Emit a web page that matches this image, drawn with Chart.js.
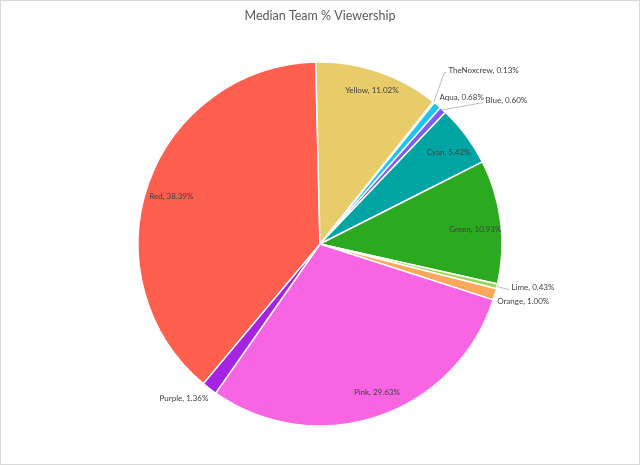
<!DOCTYPE html>
<html>
<head>
<meta charset="utf-8">
<script src="https://cdn.jsdelivr.net/npm/chart.js@4/dist/chart.umd.min.js"></script>
<style>
html,body{margin:0;padding:0;background:#fff;}
#wrap{width:640px;height:465px;position:relative;}
</style>
</head>
<body>
<div id="wrap"><canvas id="c" width="640" height="465"></canvas></div>
<script>
const titleText = "Median Team % Viewership";
const teams = ["TheNoxcrew","Aqua","Blue","Cyan","Green","Lime","Orange","Pink","Purple","Red","Yellow"];
const shares = [0.13,0.68,0.60,5.42,10.93,0.43,1.00,29.63,1.36,38.39,11.02];
const colors = ["#F2E3B0","#1BC6EE","#7B5CF8","#00A5A3","#2CAA1F","#9ED65C","#FFA75A","#F865E3","#A524E4","#FF5F4F","#E8CC69"];
const labelTexts = teams.map((t,i)=> t + ", " + shares[i].toFixed(2) + "%");
// label placement: 'in' = inside slice (shift from 0.86 radius point), 'out' = outside (shift from slice edge)
const labelMode = ["out","out","out","in","in","out","out","in","out","in","in"];
const labelShift = [[14.5,-31.5],[2,-8],[42.5,-9],[3,2],[0,5],[14.5,0.8],[2.3,7.5],[7,0],[-1,9.5],[-1,4],[2,-5]];
const leaderLine = [true,false,true,false,false,true,false,false,false,false,false];

const frame = {
  id:'frame',
  beforeDraw(chart){
    const ctx = chart.ctx;
    ctx.save();
    ctx.fillStyle = '#fff';
    ctx.fillRect(0,0,chart.width,chart.height);
    ctx.strokeStyle = '#D9D9D9';
    ctx.lineWidth = 1;
    ctx.strokeRect(0.5,0.5,chart.width-1,chart.height-1);
    ctx.restore();
  }
};

const sliceLabels = {
  id:'sliceLabels',
  afterDatasetsDraw(chart){
    const ctx = chart.ctx;
    const meta = chart.getDatasetMeta(0);
    ctx.save();
    ctx.font = '8px Lato, "Liberation Sans", sans-serif';
    ctx.fillStyle = '#404040';
    ctx.textBaseline = 'middle';
    meta.data.forEach((arc,i)=>{
      const p = arc.getProps(['x','y','startAngle','endAngle','outerRadius'], true);
      const mid = (p.startAngle + p.endAngle)/2;
      const cx = Math.cos(mid), cy = Math.sin(mid);
      if(labelMode[i]==='in'){
        const r = p.outerRadius*0.86;
        ctx.textAlign = 'center';
        ctx.fillText(labelTexts[i], p.x + cx*r + labelShift[i][0], p.y + cy*r + labelShift[i][1]);
      } else {
        const ex = p.x + cx*p.outerRadius, ey = p.y + cy*p.outerRadius;
        const tx = ex + labelShift[i][0], ty = ey + labelShift[i][1];
        const right = labelShift[i][0] >= 0;
        ctx.textAlign = right ? 'left' : 'right';
        ctx.fillText(labelTexts[i], tx, ty);
        if(leaderLine[i]){
          ctx.strokeStyle = '#A6A6A6';
          ctx.lineWidth = 0.75;
          ctx.beginPath();
          ctx.moveTo(ex, ey);
          ctx.lineTo(tx - 4, ty + 2);
          ctx.lineTo(tx - 2, ty + 2);
          ctx.stroke();
        }
      }
    });
    ctx.restore();
  }
};

new Chart(document.getElementById('c'), {
  type:'pie',
  data:{
    labels: teams,
    datasets:[{
      data: shares,
      backgroundColor: colors,
      borderColor:'#FFFFFF',
      borderWidth:1.5
    }]
  },
  options:{
    responsive:false,
    animation:false,
    rotation:38.5,
    radius:182,
    layout:{padding:{top:0,bottom:39,left:0,right:0}},
    plugins:{
      legend:{display:false},
      tooltip:{enabled:false},
      title:{
        display:true,
        text:titleText,
        color:'#595959',
        font:{family:'Lato, "Liberation Sans", sans-serif', size:12.5, weight:'normal', lineHeight:1.2},
        padding:{top:8,bottom:39}
      }
    }
  },
  plugins:[frame, sliceLabels]
});
</script>
</body>
</html>
